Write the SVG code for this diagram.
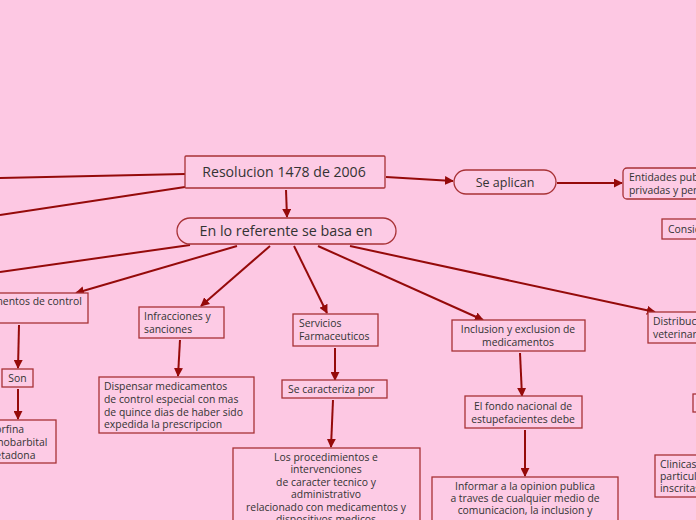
<svg xmlns="http://www.w3.org/2000/svg" width="696" height="520" viewBox="0 0 696 520">
<defs>
<marker id="ah" viewBox="0 0 10 10" refX="9" refY="5" markerWidth="9" markerHeight="9" markerUnits="userSpaceOnUse" orient="auto">
<path d="M0,0 L10,5 L0,10 z" fill="#950a0a"/>
</marker>
<style>
.bx{fill:#fdcbe5;stroke:#a83236;stroke-width:1.3}
.t{font-family:"Open Sans","Noto Sans",sans-serif;font-size:10.4px;fill:#333}
.c{text-anchor:middle}
.big{font-size:14.1px}
.ln{stroke:#950a0a;stroke-width:2;fill:none}
.ar{stroke:#950a0a;stroke-width:2;fill:none;marker-end:url(#ah)}
</style>
</defs>
<rect width="696" height="520" fill="#fdc8e3"/>
<g id="connectors">
<line class="ln" x1="185" y1="174" x2="0" y2="178"/>
<line class="ln" x1="185" y1="187" x2="0" y2="215"/>
<line class="ar" x1="286" y1="190" x2="287" y2="217"/>
<line class="ar" x1="386" y1="177" x2="453" y2="181"/>
<line class="ar" x1="557" y1="183" x2="622" y2="183"/>
<line class="ln" x1="190" y1="245" x2="0" y2="272"/>
<line class="ar" x1="237" y1="246" x2="76" y2="293"/>
<line class="ar" x1="270" y1="246" x2="201" y2="306"/>
<line class="ar" x1="294" y1="246" x2="327" y2="313"/>
<line class="ar" x1="318" y1="246" x2="483" y2="320"/>
<line class="ar" x1="350" y1="246" x2="655" y2="312"/>
<line class="ar" x1="19" y1="325" x2="18" y2="368"/>
<line class="ar" x1="18" y1="389" x2="18" y2="419"/>
<line class="ar" x1="180" y1="340" x2="178" y2="376"/>
<line class="ar" x1="335" y1="348" x2="335" y2="380"/>
<line class="ar" x1="333" y1="400" x2="331" y2="447"/>
<line class="ar" x1="520" y1="353" x2="522" y2="396"/>
<line class="ar" x1="525" y1="430" x2="525" y2="476"/>
</g>
<g id="root">
<rect class="bx" x="185" y="156" width="200" height="32" rx="1"/>
<text class="t c big" x="284" y="177">Resolucion 1478 de 2006</text>
</g>
<g id="basa">
<rect class="bx" x="177" y="218" width="219" height="26" rx="13"/>
<text class="t c" style="font-size:14.3px" x="286" y="236">En lo referente se basa en</text>
</g>
<g id="aplican">
<rect class="bx" x="454" y="170" width="102" height="24" rx="12"/>
<text class="t c" style="font-size:12.5px" x="505" y="187">Se aplican</text>
</g>
<g id="entidades">
<rect class="bx" x="623" y="168" width="100" height="31" rx="4"/>
<text class="t" x="629" y="181">Entidades publicas,</text>
<text class="t" x="629" y="194">privadas y personas</text>
</g>
<g id="consi">
<rect class="bx" x="662" y="219" width="80" height="20"/>
<text class="t" x="668" y="233">Consideraciones</text>
</g>
<g id="control">
<rect class="bx" x="-40" y="293" width="128" height="30"/>
<text class="t" style="text-anchor:end" x="82" y="305">Medicamentos de control</text>
</g>
<g id="son">
<rect class="bx" x="2" y="369" width="31" height="18"/>
<text class="t c" x="17.5" y="382">Son</text>
</g>
<g id="lista">
<rect class="bx" x="-20" y="420" width="76" height="43"/>
<text class="t" x="-14" y="433">Morfina</text>
<text class="t" x="-14" y="446">Fenobarbital</text>
<text class="t" x="-14" y="459">Metadona</text>
</g>
<g id="infracciones">
<rect class="bx" x="139" y="307" width="85" height="31"/>
<text class="t" x="144" y="320">Infracciones y</text>
<text class="t" x="144" y="333">sanciones</text>
</g>
<g id="dispensar">
<rect class="bx" x="99" y="377" width="155" height="56"/>
<text class="t" x="104" y="390">Dispensar medicamentos</text>
<text class="t" x="104" y="403"> de control especial con mas</text>
<text class="t" x="104" y="416">de quince dias de haber sido</text>
<text class="t" x="104" y="428">expedida la prescripcion</text>
</g>
<g id="servicios">
<rect class="bx" x="293" y="314" width="85" height="32"/>
<text class="t" x="299" y="327">Servicios</text>
<text class="t" x="299" y="340">Farmaceuticos</text>
</g>
<g id="caracteriza">
<rect class="bx" x="282" y="380" width="105" height="18"/>
<text class="t" x="288" y="393">Se caracteriza por</text>
</g>
<g id="procedimientos">
<rect class="bx" x="233" y="448" width="187" height="90"/>
<text class="t c" x="326" y="461">Los procedimientos e</text>
<text class="t c" x="326" y="473">intervenciones</text>
<text class="t c" x="326" y="486">de caracter tecnico y</text>
<text class="t c" x="326" y="498">administrativo</text>
<text class="t c" x="326" y="511">relacionado con medicamentos y</text>
<text class="t c" x="326" y="523">dispositivos medicos</text>
</g>
<g id="inclusion">
<rect class="bx" x="452" y="320" width="133" height="31"/>
<text class="t c" x="518" y="333">Inclusion y exclusion de</text>
<text class="t c" x="518" y="346">medicamentos</text>
</g>
<g id="fondo">
<rect class="bx" x="465" y="396" width="117" height="32"/>
<text class="t c" x="523" y="410">El fondo nacional de</text>
<text class="t c" x="523" y="423">estupefacientes debe</text>
</g>
<g id="informar">
<rect class="bx" x="432" y="477" width="186" height="60"/>
<text class="t c" x="525" y="490">Informar a la opinion publica</text>
<text class="t c" x="525" y="502">a traves de cualquier medio de</text>
<text class="t c" x="525" y="514">comunicacion, la inclusion y</text>
</g>
<g id="distribucion">
<rect class="bx" x="648" y="312" width="90" height="31"/>
<text class="t" x="653" y="325">Distribucion de</text>
<text class="t" x="653" y="338">veterinarios</text>
</g>
<g id="pequeno">
<rect class="bx" x="693" y="394" width="40" height="18"/>
</g>
<g id="clinicas">
<rect class="bx" x="655" y="455" width="80" height="42"/>
<text class="t" x="660" y="468">Clinicas</text>
<text class="t" x="660" y="480">particulares</text>
<text class="t" x="660" y="492">inscritas</text>
</g>
</svg>
